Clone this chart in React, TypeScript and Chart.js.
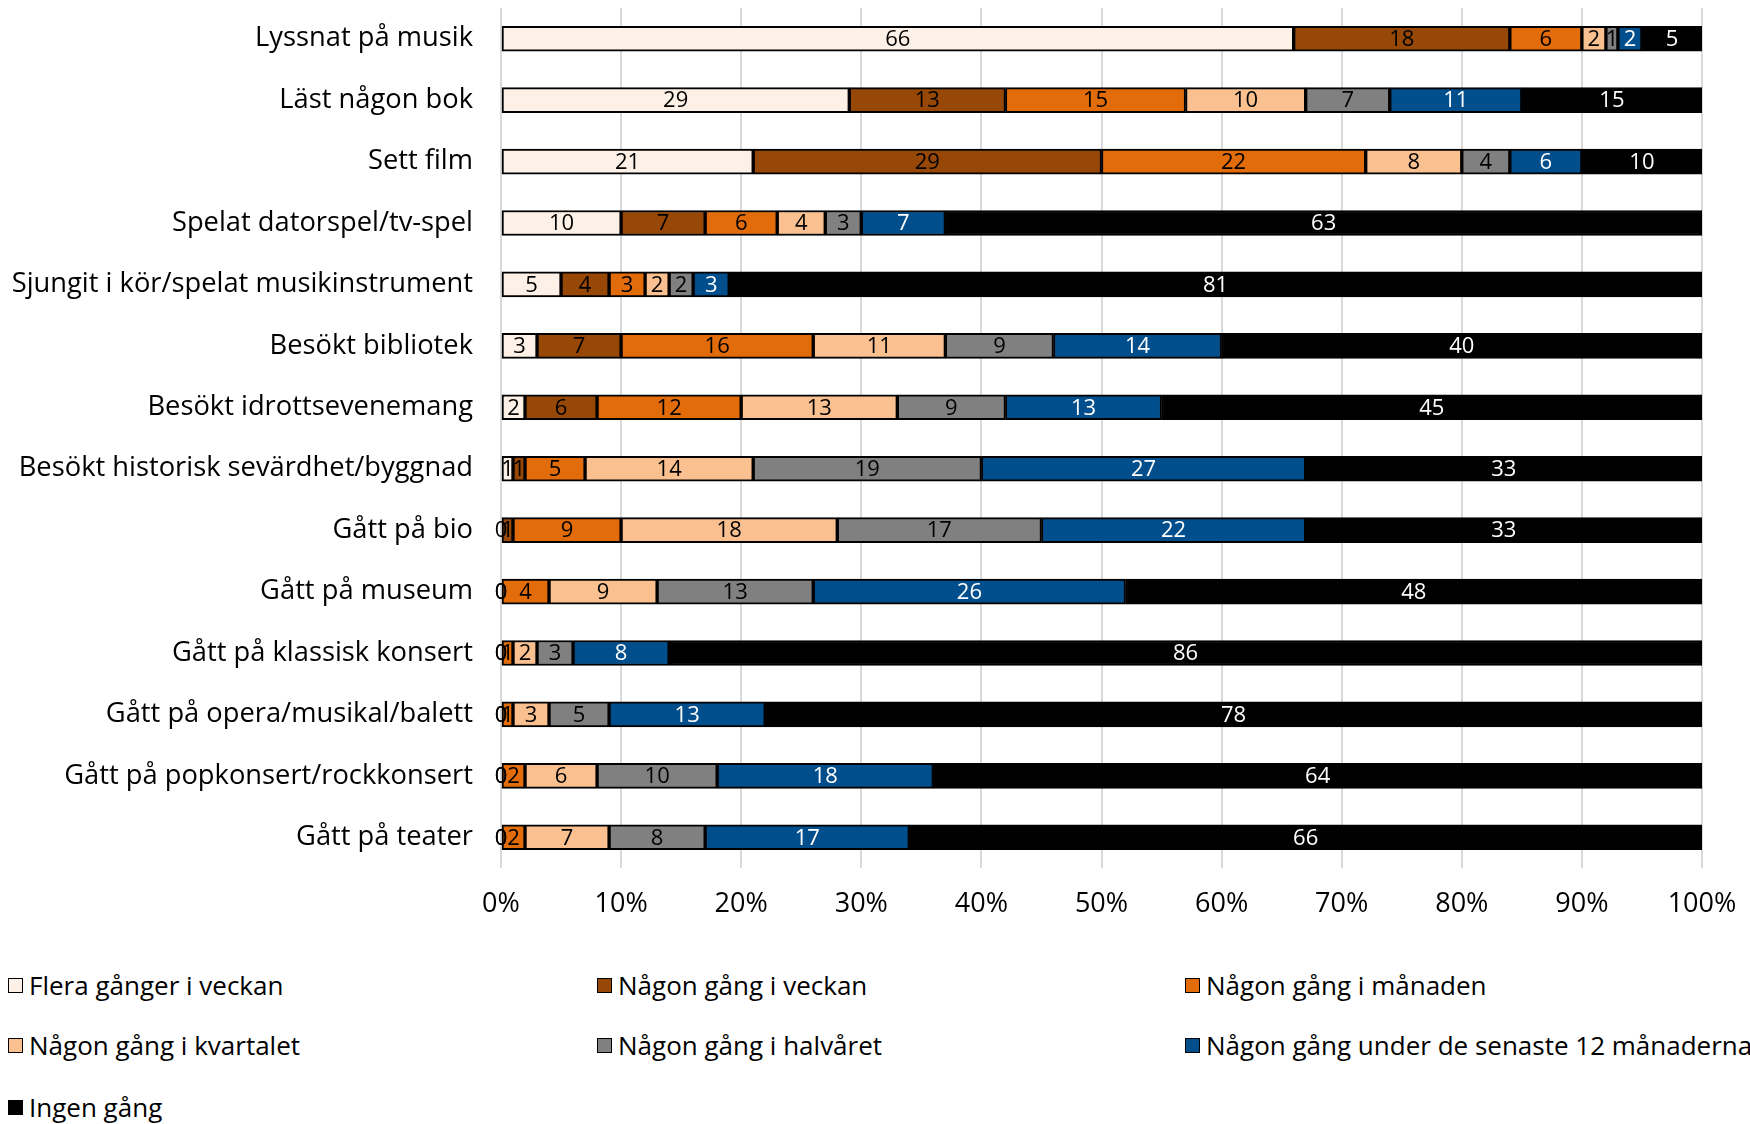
import React, { useEffect, useRef } from "react";
import { Chart, registerables } from "chart.js";
Chart.register(...registerables);

const categories = [
  "Lyssnat på musik",
  "Läst någon bok",
  "Sett film",
  "Spelat datorspel/tv-spel",
  "Sjungit i kör/spelat musikinstrument",
  "Besökt bibliotek",
  "Besökt idrottsevenemang",
  "Besökt historisk sevärdhet/byggnad",
  "Gått på bio",
  "Gått på museum",
  "Gått på klassisk konsert",
  "Gått på opera/musikal/balett",
  "Gått på popkonsert/rockkonsert",
  "Gått på teater",
];

const seriesNames = [
  "Flera gånger i veckan",
  "Någon gång i veckan",
  "Någon gång i månaden",
  "Någon gång i kvartalet",
  "Någon gång i halvåret",
  "Någon gång under de senaste 12 månaderna",
  "Ingen gång",
];

const flera = [66, 29, 21, 10, 5, 3, 2, 1, 0, 0, 0, 0, 0, 0];
const veckan = [18, 13, 29, 7, 4, 7, 6, 1, 1, 0, 0, 0, 0, 0];
const manaden = [6, 15, 22, 6, 3, 16, 12, 5, 9, 4, 1, 1, 2, 2];
const kvartalet = [2, 10, 8, 4, 2, 11, 13, 14, 18, 9, 2, 3, 6, 7];
const halvaret = [1, 7, 4, 3, 2, 9, 9, 19, 17, 13, 3, 5, 10, 8];
const tolvManader = [2, 11, 6, 7, 3, 14, 13, 27, 22, 26, 8, 13, 18, 17];
const ingen = [5, 15, 10, 63, 81, 40, 45, 33, 33, 48, 86, 78, 64, 66];

const xTicks = [0, 10, 20, 30, 40, 50, 60, 70, 80, 90, 100];

const seriesValues = [flera, veckan, manaden, kvartalet, halvaret, tolvManader, ingen];
const colors = ["#FDF0E6", "#974706", "#E36C0A", "#FAC090", "#808080", "#004E8C", "#000000"];
const labelColors = ["#000", "#000", "#000", "#000", "#000", "#fff", "#fff"];

const FONT = "'Open Sans', 'Noto Sans', sans-serif";

const dataLabelPlugin = {
  id: "dataLabels",
  afterDatasetsDraw(chart: any) {
    const ctx = chart.ctx;
    ctx.save();
    ctx.font = `22px ${FONT}`;
    ctx.textAlign = "center";
    ctx.textBaseline = "middle";
    chart.data.datasets.forEach((ds: any, di: number) => {
      const meta = chart.getDatasetMeta(di);
      meta.data.forEach((el: any, i: number) => {
        const v = ds.data[i];
        const props = el.getProps(["x", "y", "base"], true);
        const cx = (props.x + props.base) / 2;
        ctx.fillStyle = labelColors[di];
        ctx.fillText(String(v), cx, props.y + 1);
      });
    });
    ctx.restore();
  },
};

export default function App() {
  const ref = useRef<HTMLCanvasElement | null>(null);

  useEffect(() => {
    if (!ref.current) return;
    const chart = new Chart(ref.current, {
      type: "bar",
      data: {
        labels: categories,
        datasets: seriesNames.map((name, i) => ({
          label: name,
          data: seriesValues[i],
          backgroundColor: colors[i],
          borderColor: "#000000",
          borderWidth: 2,
          borderSkipped: false,
          barThickness: 25,
        })),
      },
      options: {
        indexAxis: "y",
        responsive: false,
        animation: false,
        devicePixelRatio: 1,
        layout: { padding: { top: 8, right: 48, left: 0, bottom: 0 } },
        plugins: {
          legend: { display: false },
          tooltip: { enabled: false },
        },
        scales: {
          x: {
            stacked: true,
            min: 0,
            max: 100,
            afterBuildTicks: (scale: any) => {
              scale.ticks = xTicks.map((v) => ({ value: v }));
            },
            afterFit: (scale: any) => {
              scale.height = 72;
              scale.paddingLeft = 0;
              scale.paddingRight = 0;
            },
            grid: { color: "#D9D9D9", lineWidth: 2, drawTicks: false },
            border: { display: false },
            ticks: {
              padding: 20,
              color: "#000",
              font: { family: FONT, size: 27 },
              callback: (v: any) => `${v}%`,
            },
          },
          y: {
            stacked: true,
            afterFit: (scale: any) => {
              scale.width = 501;
              scale.paddingTop = 0;
              scale.paddingBottom = 0;
            },
            grid: { display: false, drawTicks: false },
            border: { display: false },
            ticks: {
              padding: 28,
              color: "#000",
              font: { family: FONT, size: 27.3 },
            },
          },
        },
      },
      plugins: [dataLabelPlugin],
    } as any);
    return () => chart.destroy();
  }, []);

  const legendCols = [8, 597, 1185];
  const legendRows = [985, 1045, 1107];

  return (
    <div
      style={{
        position: "absolute",
        left: 0,
        top: 0,
        width: 1750,
        height: 1124,
        background: "#fff",
        overflow: "hidden",
        fontFamily: FONT,
      }}
    >
      <canvas ref={ref} width={1750} height={940} style={{ display: "block", width: 1750, height: 940 }} />
      {seriesNames.map((name, i) => {
        const col = i % 3;
        const row = Math.floor(i / 3);
        return (
          <div
            key={name}
            style={{
              position: "absolute",
              left: legendCols[col],
              top: legendRows[row] - 18,
              height: 36,
              display: "flex",
              alignItems: "center",
              whiteSpace: "nowrap",
              fontSize: 26,
              color: "#000",
            }}
          >
            <span
              style={{
                display: "inline-block",
                width: 13,
                height: 13,
                border: "1.5px solid #000",
                background: colors[i],
                marginRight: 6,
              }}
            />
            <span>{name}</span>
          </div>
        );
      })}
    </div>
  );
}
